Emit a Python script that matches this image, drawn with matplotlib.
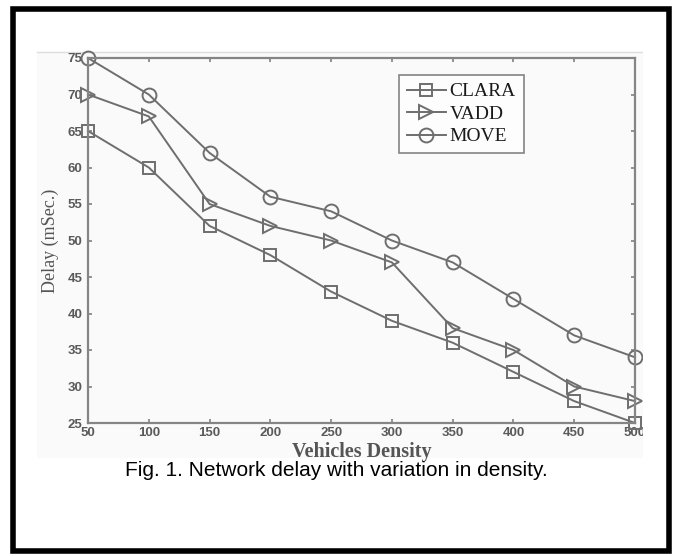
import matplotlib
matplotlib.use("Agg")
import matplotlib.pyplot as plt
from matplotlib.patches import Rectangle
from matplotlib.lines import Line2D

density = [50, 100, 150, 200, 250, 300, 350, 400, 450, 500]
clara = [65, 60, 52, 48, 43, 39, 36, 32, 28, 25]
vadd = [70, 67, 55, 52, 50, 47, 38, 35, 30, 28]
move = [75, 70, 62, 56, 54, 50, 47, 42, 37, 34]
series_names = ["CLARA", "VADD", "MOVE"]
x_ticks = [50, 100, 150, 200, 250, 300, 350, 400, 450, 500]
y_ticks = [25, 30, 35, 40, 45, 50, 55, 60, 65, 70, 75]

W, H = 673, 556
fig = plt.figure(figsize=(W / 100, H / 100), dpi=100)
fig.patch.set_facecolor("white")

def fx(px):
    return px / W

def fy(py):
    return 1 - py / H

# pasted-image background
fig.patches.append(Rectangle((fx(37), fy(458)), fx(643) - fx(37), fy(52) - fy(458),
                             transform=fig.transFigure, facecolor="#fafafa",
                             edgecolor="none", zorder=-5))
fig.lines.append(Line2D([fx(37), fx(643)], [fy(52), fy(52)], transform=fig.transFigure,
                        color="#dddddd", lw=1.0, zorder=-4))

ax = fig.add_axes([fx(88), fy(423), fx(635) - fx(88), fy(58) - fy(423)])
ax.set_facecolor("none")

lc = "#6e6e6e"
ax.plot(density, clara, color=lc, lw=1.4, marker="s", ms=9, mfc="none", mec=lc, mew=1.4,
        label=series_names[0], clip_on=False)
ax.plot(density, vadd, color=lc, lw=1.4, marker=">", ms=10, mfc="none", mec=lc, mew=1.4,
        label=series_names[1], clip_on=False)
ax.plot(density, move, color=lc, lw=1.4, marker="o", ms=10, mfc="none", mec=lc, mew=1.4,
        label=series_names[2], clip_on=False)

ax.set_xlim(50, 500)
ax.set_ylim(25, 75)
ax.set_xticks(x_ticks)
ax.set_yticks(y_ticks)
ax.tick_params(direction="in", length=3, width=1.2, color="#808080", top=True, right=True,
               labelsize=9.5, labelcolor="#5a5a5a")
ax.tick_params(axis="x", pad=3)
ax.tick_params(axis="y", pad=4)
for lab in ax.get_xticklabels() + ax.get_yticklabels():
    lab.set_fontfamily("Liberation Sans")
    lab.set_fontweight("bold")
for sp in ax.spines.values():
    sp.set_color("#858585")
    sp.set_linewidth(1.6)

ax.set_ylabel("Delay (mSec.)", fontfamily="Liberation Serif", fontsize=13,
              color="#555555", va="center", ha="center")
ax.yaxis.set_label_coords((50 - 88) / (635 - 88), 0.5)
ax.set_xlabel("Vehicles Density", fontfamily="Liberation Serif", fontsize=14.5,
              fontweight="bold", color="#555555", va="center", ha="center")
ax.xaxis.set_label_coords((362 - 88) / (635 - 88), (423 - 452) / (423 - 58))

leg = ax.legend(loc="upper left", bbox_to_anchor=((399 - 88) / (635 - 88), 1 - (75 - 58) / (423 - 58)),
                borderaxespad=0, frameon=True, fancybox=False, handlelength=2.0,
                handletextpad=0.2, labelspacing=0.25, borderpad=0.4,
                prop={"family": "Liberation Serif", "size": 14})
leg.get_frame().set_edgecolor("#666666")
leg.get_frame().set_linewidth(1.2)
leg.get_frame().set_facecolor("white")
for t in leg.get_texts():
    t.set_color("#1a1a1a")

# clip right edge of pasted image
fig.patches.append(Rectangle((fx(643), fy(470)), fx(660) - fx(643), fy(45) - fy(470),
                             transform=fig.transFigure, facecolor="white",
                             edgecolor="none", zorder=10))

fig.text(0.5, fy(471), "Fig. 1. Network delay with variation in density.",
         ha="center", va="center", fontfamily="Liberation Sans", fontsize=15, color="black")

# outer black border
fig.patches.append(Rectangle((fx(12.5), fy(550.5)), fx(668.5) - fx(12.5), fy(9) - fy(550.5),
                             transform=fig.transFigure, facecolor="none",
                             edgecolor="black", lw=4.0, zorder=20))

fig.savefig("out.png", dpi=100)
